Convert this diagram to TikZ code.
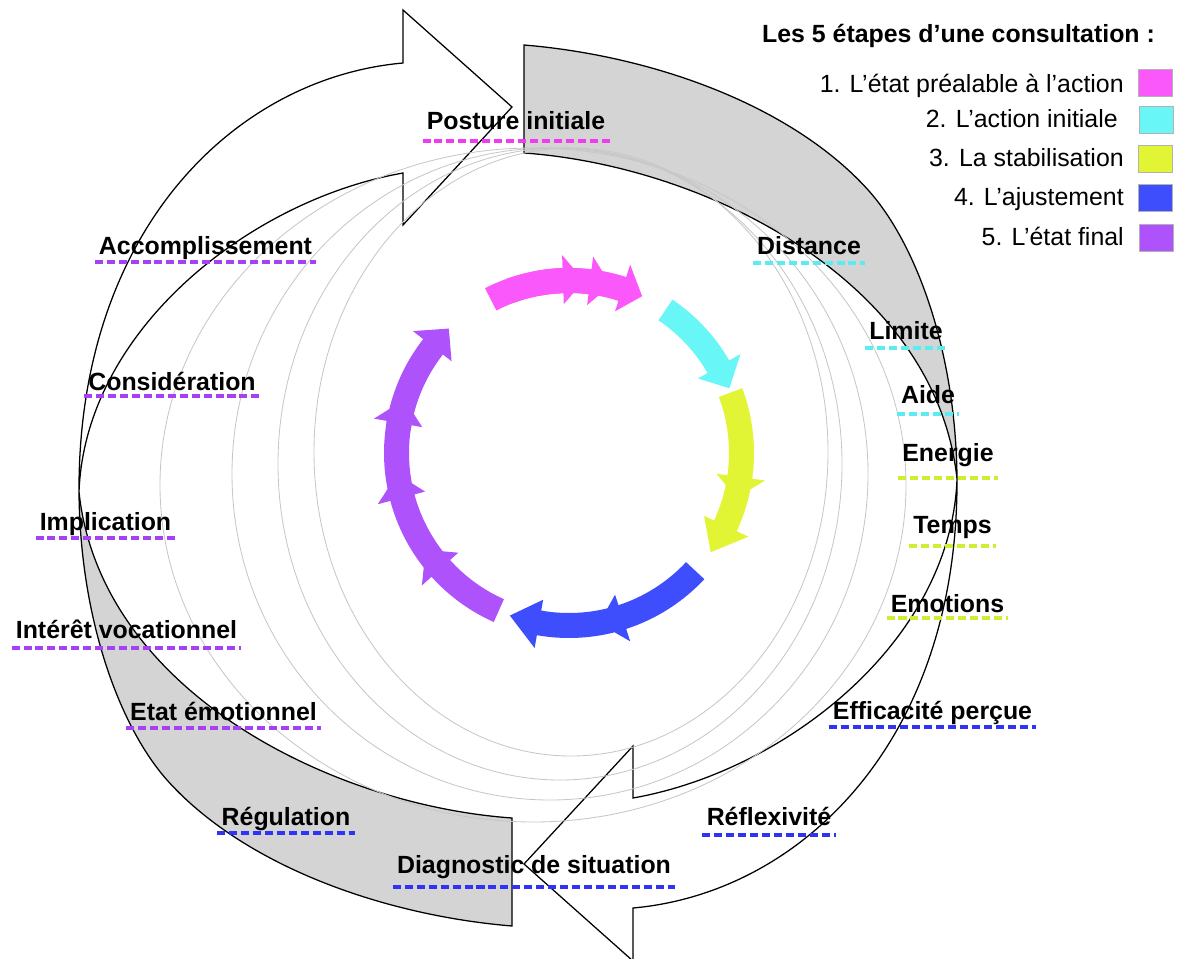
\documentclass[tikz,border=0pt]{standalone}
\usepackage{fontspec}
\setmainfont{Liberation Sans}
\usepackage{xcolor}
\usetikzlibrary{calc,positioning}
\definecolor{cpink}{RGB}{250,88,250}
\definecolor{ccyan}{RGB}{104,246,246}
\definecolor{cyell}{RGB}{226,245,52}
\definecolor{cblue}{RGB}{62,78,252}
\definecolor{cpurp}{RGB}{174,82,252}
\definecolor{ulpink}{RGB}{240,60,240}
\definecolor{ulcyan}{RGB}{90,236,240}
\definecolor{ulyell}{RGB}{204,240,48}
\definecolor{ulblue}{RGB}{48,50,245}
\definecolor{ulpurp}{RGB}{165,64,245}
% one big turning arrow: white front with its head, grey back part at its tail
\newcommand{\bigarrow}{%
  \filldraw[front] (79,492) .. controls (78,230) and (235,78) .. (403,63)
    -- (403,10) -- (512,107) -- (403,225) -- (403,173)
    .. controls (250,200) and (85,330) .. (79,492) -- cycle;
  \filldraw[back] (79,492) .. controls (80,620) and (120,727) .. (167,780)
    .. controls (242,864) and (380,915) .. (512,926) -- (512,818)
    .. controls (330,805) and (100,690) .. (79,492) -- cycle;}
% ring arrow: start angle, end of shaft, tip, colour
\newcommand{\ringarr}[4]{%
  \fill[#4] (#1:185) arc[start angle=#1, end angle=#2, radius=185]
    -- (#2:198) -- (#3:173) -- (#2:149) -- (#2:160)
    arc[start angle=#2, end angle=#1, radius=160] -- cycle;}

\begin{document}
\begin{tikzpicture}[x=0.025cm,y=-0.025cm,
  front/.style={fill=white,draw=black,line width=0.9pt,line join=miter},
  back/.style={fill=black!17,draw=black,line width=0.9pt},
  guide/.style={draw=black!22,line width=0.6pt},
  lbl/.style={anchor=base,font=\bfseries\fontsize{17.7pt}{21pt}\selectfont,inner xsep=0.1cm,inner ysep=0pt},
  leg/.style={anchor=base east,font=\fontsize{17.7pt}{21pt}\selectfont,inner sep=0pt},
  sq/.style={minimum width=0.85cm,minimum height=0.67cm,inner sep=0pt,draw=white!70!black,line width=0.3pt},
  ul/.style={line width=2.2pt,dash pattern=on 5.7pt off 2.8pt}]
  \useasboundingbox (0,0) rectangle (1181,958);
  % the two big arrows
  \bigarrow
  \begin{scope}[rotate around={180:(518,485.5)}]
    \bigarrow
  \end{scope}
  % faint guide ellipses
  \draw[guide] (533,485) ellipse[x radius=373, y radius=337];
  \draw[guide] (550,474) ellipse[x radius=318, y radius=326];
  \draw[guide] (560,464) ellipse[x radius=282, y radius=316];
  \draw[guide] (571,452) ellipse[x radius=257, y radius=304];
  % inner ring of coloured arrows
  \begin{scope}[shift={(569,453)},x=0.025cm,y=0.025cm]
    \ringarr{117}{92}{85}{cpink}
    \ringarr{110}{83}{76}{cpink}
    \ringarr{100}{72}{65}{cpink}
    \ringarr{56}{30}{22}{ccyan}
    \ringarr{20.5}{-8}{-15}{cyell}
    \ringarr{-10}{-25}{-35}{cyell}
    \ringarr{-43}{-72}{-80}{cblue}
    \ringarr{-76}{-100}{-110}{cblue}
    \ringarr{-114}{-138}{-146}{cpurp}
    \ringarr{-140}{-165}{-173}{cpurp}
    \ringarr{-168}{-190}{-198}{cpurp}
    \ringarr{-188}{-218}{-226}{cpurp}
  \end{scope}
  % labels round the cycle
  \node[lbl] (post) at (516,129.5) {Posture initiale};
  \node[lbl] (dist) at (809,255) {Distance};
  \node[lbl] (lim)  at (906,339) {Limite};
  \node[lbl] (aide) at (928,403) {Aide};
  \node[lbl] (ener) at (948,461) {Energie};
  \node[lbl] (temp) at (952.5,533) {Temps};
  \node[lbl] (emot) at (947.5,612) {Emotions};
  \node[lbl] (effi) at (932.5,719) {Efficacité perçue};
  \node[lbl] (refl) at (769,825) {Réflexivité};
  \node[lbl] (diag) at (534,873) {Diagnostic de situation};
  \node[lbl] (regu) at (286,825) {Régulation};
  \node[lbl] (etat) at (223.5,720) {Etat émotionnel};
  \node[lbl] (inte) at (126.5,638) {Intérêt vocationnel};
  \node[lbl] (impl) at (105.5,530) {Implication};
  \node[lbl] (cons) at (172,390) {Considération};
  \node[lbl] (acco) at (205.5,255) {Accomplissement};
  % dashed underlines
  \draw[ul,ulpink] ($(post.base west)+(0,11.5)$) -- ($(post.base east)+(0,11.5)$);
  \draw[ul,ulcyan] ($(dist.base west)+(0,8)$) -- ($(dist.base east)+(0,8)$);
  \draw[ul,ulcyan] ($(lim.base west)+(0,9)$) -- ($(lim.base east)+(0,9)$);
  \draw[ul,ulcyan] ($(aide.base west)+(0,11)$) -- ($(aide.base east)+(0,11)$);
  \draw[ul,ulyell] ($(ener.base west)+(0,17)$) -- ($(ener.base east)+(0,17)$);
  \draw[ul,ulyell] ($(temp.base west)+(0,13)$) -- ($(temp.base east)+(0,13)$);
  \draw[ul,ulyell] ($(emot.base west)+(0,6)$) -- ($(emot.base east)+(0,6)$);
  \draw[ul,ulblue] ($(effi.base west)+(0,8)$) -- ($(effi.base east)+(0,8)$);
  \draw[ul,ulblue] ($(refl.base west)+(0,10)$) -- ($(refl.base east)+(0,10)$);
  \draw[ul,ulblue] ($(diag.base west)+(0,14)$) -- ($(diag.base east)+(0,14)$);
  \draw[ul,ulblue] ($(regu.base west)+(0,8)$) -- ($(regu.base east)+(0,8)$);
  \draw[ul,ulpurp] ($(etat.base west)+(0,8)$) -- ($(etat.base east)+(0,8)$);
  \draw[ul,ulpurp] ($(inte.base west)+(0,10)$) -- ($(inte.base east)+(0,10)$);
  \draw[ul,ulpurp] ($(impl.base west)+(0,8)$) -- ($(impl.base east)+(0,8)$);
  \draw[ul,ulpurp] ($(cons.base west)+(0,6)$) -- ($(cons.base east)+(0,6)$);
  \draw[ul,ulpurp] ($(acco.base west)+(0,7)$) -- ($(acco.base east)+(0,7)$);
  % legend
  \node[lbl] (ttl) at (958.5,43) {Les 5 étapes d’une consultation :};
  \node[leg] (l1) at (1124,93)  {1. L’état préalable à l’action};
  \node[leg] (l2) at (1118,128) {2. L’action initiale};
  \node[leg] (l3) at (1124,167) {3. La stabilisation};
  \node[leg] (l4) at (1124,206) {4. L’ajustement};
  \node[leg] (l5) at (1124,245) {5. L’état final};
  \node[sq,fill=cpink] (s1) at (1155,83)  {};
  \node[sq,fill=ccyan] (s2) at (1156,120) {};
  \node[sq,fill=cyell] (s3) at (1155,159) {};
  \node[sq,fill=cblue] (s4) at (1155,198) {};
  \node[sq,fill=cpurp] (s5) at (1156,238) {};
\end{tikzpicture}
\end{document}
